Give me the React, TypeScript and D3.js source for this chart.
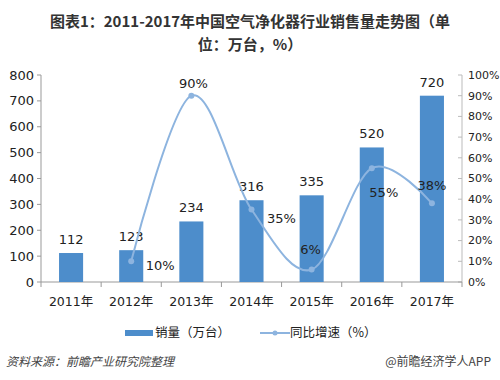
import React from "react";
import * as d3 from "d3";

const years = ["2011年", "2012年", "2013年", "2014年", "2015年", "2016年", "2017年"];
const sales = [112, 123, 234, 316, 335, 520, 720];
const growth: (number | null)[] = [null, 10, 90, 35, 6, 55, 38];
const growthLabelDx = [0, 29, 2, 30, -1, 12, 0];
const growthLabelDy = [0, 4, -12, 9, -20, 24, -18];
const leftTicks = [0, 100, 200, 300, 400, 500, 600, 700, 800];
const rightTicks = [0, 10, 20, 30, 40, 50, 60, 70, 80, 90, 100];

const W = 500, H = 380;
const left = 41, right = 462, top = 75, bottom = 282;
const barColor = "#4d8dcb";
const lineColor = "#8db4df";
const axisColor = "#999";
const font = "'DejaVu Sans', 'Noto Sans CJK SC', sans-serif";
const cjk = "'Noto Sans CJK SC', 'DejaVu Sans', sans-serif";

export default function App() {
  const x = d3.scaleBand<string>().domain(years).range([left, right]).paddingInner(0.6).paddingOuter(0.3);
  const xb = d3.scaleBand<string>().domain(years).range([left, right]);
  const y = d3.scaleLinear().domain([0, 800]).range([bottom, top]);
  const y2 = d3.scaleLinear().domain([0, 100]).range([bottom, top]);

  const pts = years
    .map((yr, i) => ({ yr, v: growth[i] }))
    .filter((d) => d.v !== null) as { yr: string; v: number }[];
  const line = d3
    .line<{ yr: string; v: number }>()
    .x((d) => (xb(d.yr) as number) + xb.bandwidth() / 2)
    .y((d) => y2(d.v))
    .curve(d3.curveCatmullRom.alpha(0));

  return (
    <svg width={W} height={H} style={{ display: "block", position: "absolute", left: 0, top: 0, background: "#fff" }}>
      <rect width={W} height={H} fill="#fff" />
      <text x={250} y={27} textAnchor="middle" fontFamily={cjk} fontWeight="bold" fontSize={15} fill="#333">
        图表1：2011-2017年中国空气净化器行业销售量走势图（单
      </text>
      <text x={250} y={50} textAnchor="middle" fontFamily={cjk} fontWeight="bold" fontSize={15} fill="#333">
        位：万台，%）
      </text>

      {/* left axis */}
      <line x1={left} x2={left} y1={top} y2={bottom} stroke={axisColor} />
      {leftTicks.map((t) => (
        <g key={"l" + t}>
          <line x1={left - 4} x2={left} y1={y(t)} y2={y(t)} stroke={axisColor} />
          <text x={left - 7} y={y(t)} dy="0.35em" textAnchor="end" fontFamily={font} fontSize={13} fill="#222">
            {t}
          </text>
        </g>
      ))}
      {/* right axis */}
      <line x1={right} x2={right} y1={top} y2={bottom} stroke="#bbb" />
      {rightTicks.map((t) => (
        <g key={"r" + t}>
          <line x1={right - 4} x2={right} y1={y2(t)} y2={y2(t)} stroke="#bbb" />
          <text x={right + 6} y={y2(t)} dy="0.35em" textAnchor="start" fontFamily={font} fontSize={11} fill="#222">
            {t}%
          </text>
        </g>
      ))}
      {/* bottom axis */}
      <line x1={left} x2={right} y1={bottom} y2={bottom} stroke={axisColor} />
      {years.map((yr) => (
        <line key={"t" + yr} x1={xb(yr) as number} x2={xb(yr) as number} y1={bottom} y2={bottom + 5} stroke={axisColor} />
      ))}
      <line x1={right} x2={right} y1={bottom} y2={bottom + 5} stroke={axisColor} />
      {years.map((yr) => (
        <text key={"x" + yr} x={(xb(yr) as number) + xb.bandwidth() / 2} y={306} textAnchor="middle" fontFamily={font} fontSize={12.5} fill="#222">
          {yr}
        </text>
      ))}

      {/* bars */}
      {years.map((yr, i) => (
        <g key={"b" + yr}>
          <rect x={x(yr)} y={y(sales[i])} width={x.bandwidth()} height={bottom - y(sales[i])} fill={barColor} />
          <text x={(x(yr) as number) + x.bandwidth() / 2} y={y(sales[i]) - 9} textAnchor="middle" fontFamily={font} fontSize={13} fill="#222">
            {sales[i]}
          </text>
        </g>
      ))}

      {/* line */}
      <path d={line(pts) as string} fill="none" stroke={lineColor} strokeWidth={2} />
      {pts.map((d) => (
        <circle key={"c" + d.yr} cx={(xb(d.yr) as number) + xb.bandwidth() / 2} cy={y2(d.v)} r={3} fill={lineColor} />
      ))}
      {years.map((yr, i) =>
        growth[i] === null ? null : (
          <text
            key={"g" + yr}
            x={(xb(yr) as number) + xb.bandwidth() / 2 + growthLabelDx[i]}
            y={y2(growth[i] as number) + growthLabelDy[i]}
            dy="0.35em"
            textAnchor="middle"
            fontFamily={font}
            fontSize={13}
            fill="#222"
          >
            {growth[i]}%
          </text>
        )
      )}

      {/* legend */}
      <rect x={125} y={330} width={28} height={6} fill={barColor} />
      <text x={155} y={333} dy="0.35em" fontFamily={cjk} fontSize={12.5} fill="#222">销量（万台）</text>
      <line x1={260} x2={290} y1={333} y2={333} stroke={lineColor} strokeWidth={2} />
      <circle cx={275} cy={333} r={2.5} fill={lineColor} />
      <text x={290} y={333} dy="0.35em" fontFamily={cjk} fontSize={12.5} fill="#222">同比增速（%）</text>

      {/* footer */}
      <text x={6} y={362} dy="0.35em" fontFamily={cjk} fontStyle="italic" fontSize={12} fill="#444">
        资料来源：前瞻产业研究院整理
      </text>
      <text x={491} y={362} dy="0.35em" textAnchor="end" fontFamily={cjk} fontSize={12} fill="#444">
        @前瞻经济学人APP
      </text>
    </svg>
  );
}
